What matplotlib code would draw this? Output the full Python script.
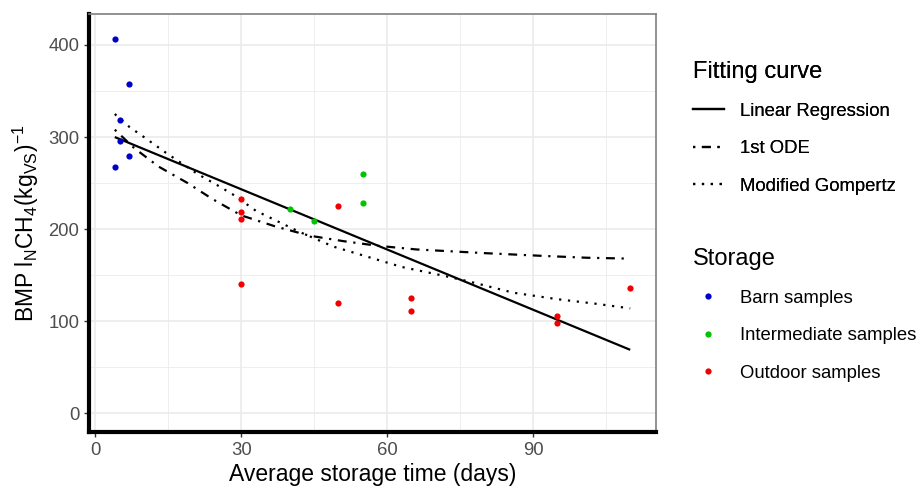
import numpy as np
import matplotlib
matplotlib.use('Agg')
import matplotlib.pyplot as plt
from matplotlib.lines import Line2D

plt.rcParams['font.family'] = ['Liberation Sans', 'DejaVu Sans']
plt.rcParams['mathtext.fontset'] = 'custom'
plt.rcParams['mathtext.rm'] = 'Liberation Sans'
plt.rcParams['mathtext.it'] = 'Liberation Sans:italic'

# Pomiary BMP wg miejsca przechowywania
barn_x = [4, 7, 5, 5, 7, 4]
barn_y = [407, 358, 319, 296, 279, 268]
inter_x = [55, 55, 40, 45]
inter_y = [260, 228, 222, 209]
outdoor_x = [30, 30, 30, 30, 50, 50, 65, 65, 95, 95, 110]
outdoor_y = [233, 219, 211, 140, 225, 120, 125, 111, 106, 98, 136]

# Krzywe dopasowania (odczytane wartości)
lin_x = [4, 110]
lin_y = [300, 69]
ode_x = [4, 8, 13, 19, 24, 30, 37, 44, 51, 58, 66, 73, 80, 92, 101, 110]
ode_y = [308, 288, 268, 250, 233, 215, 203, 193, 187, 182, 178, 176, 174, 171, 169, 168]
gomp_x = [4, 7, 10, 14.5, 21, 25, 28.5, 33, 42, 49, 56, 63, 72, 77, 86, 95, 103, 110]
gomp_y = [325, 311, 300, 283, 260, 248, 237, 220, 197, 181, 170, 159, 149, 143, 131, 124, 119, 114]

kolory = {'Barn samples': '#0000CD', 'Intermediate samples': '#00C400', 'Outdoor samples': '#F00000'}
lw = 1.6
styl_ode = (0, (1, 3, 4, 3))
styl_gomp = (0, (1, 3))

fig = plt.figure(figsize=(9.19, 4.88), dpi=100)
ax = fig.add_axes([89 / 919, 56 / 488, 567 / 919, 418 / 488])

# siatka jak w theme_bw
for v in [15, 45, 75, 105]:
    ax.axvline(v, color='#EBEBEB', lw=0.6, zorder=0)
for v in [50, 150, 250, 350]:
    ax.axhline(v, color='#EBEBEB', lw=0.6, zorder=0)
ax.grid(True, color='#EBEBEB', lw=1.2, zorder=0)
ax.set_axisbelow(True)

ax.plot(lin_x, lin_y, color='black', lw=lw, solid_capstyle='butt')
ax.plot(ode_x, ode_y, color='black', lw=lw, linestyle=styl_ode, dash_capstyle='butt')
ax.plot(gomp_x, gomp_y, color='black', lw=lw, linestyle=styl_gomp, dash_capstyle='butt')

ax.scatter(barn_x, barn_y, s=20, color=kolory['Barn samples'], zorder=3, linewidths=0)
ax.scatter(inter_x, inter_y, s=20, color=kolory['Intermediate samples'], zorder=3, linewidths=0)
ax.scatter(outdoor_x, outdoor_y, s=20, color=kolory['Outdoor samples'], zorder=3, linewidths=0)

ax.set_xlim(-1.3, 115.3)
ax.set_ylim(-20.2, 433.6)
ax.set_xticks([0, 30, 60, 90])
ax.set_yticks([0, 100, 200, 300, 400])
ax.tick_params(colors='#333333', labelcolor='#4D4D4D', labelsize=13.3, length=3.5, width=1)

for s in ['top', 'right']:
    ax.spines[s].set_color('#7F7F7F')
    ax.spines[s].set_linewidth(1.2)
for s in ['left', 'bottom']:
    ax.spines[s].set_color('black')
    ax.spines[s].set_linewidth(3)

ax.set_xlabel('Average storage time (days)', fontsize=16.5, labelpad=3)
ax.set_ylabel(r'BMP l$_\mathrm{N}$CH$_4$$\left(\mathrm{kg}_\mathrm{VS}\right)^{-1}$', fontsize=16.5, labelpad=5)

# legendy
uchwyty1 = [Line2D([], [], color='black', lw=lw),
            Line2D([], [], color='black', lw=lw, linestyle=styl_ode),
            Line2D([], [], color='black', lw=lw, linestyle=styl_gomp)]
leg1 = fig.legend(uchwyty1, ['Linear Regression', '1st ODE', 'Modified Gompertz'],
                  title='Fitting curve', loc='upper left', bbox_to_anchor=(676 / 919, 1 - 44 / 488),
                  frameon=False, fontsize=13.3, title_fontsize=17, alignment='left',
                  handlelength=1.7, handletextpad=0.85, labelspacing=1.1)
fig.add_artist(leg1)

uchwyty2 = [Line2D([], [], marker='o', linestyle='', color=c, markersize=4.5, markeredgewidth=0)
            for c in kolory.values()]
leg2 = fig.legend(uchwyty2, list(kolory.keys()),
                  title='Storage', loc='upper left', bbox_to_anchor=(676 / 919, 1 - 231 / 488),
                  frameon=False, fontsize=13.3, title_fontsize=17, alignment='left',
                  handlelength=1.7, handletextpad=0.85, labelspacing=1.1)

plt.savefig('out.png', dpi=100)
